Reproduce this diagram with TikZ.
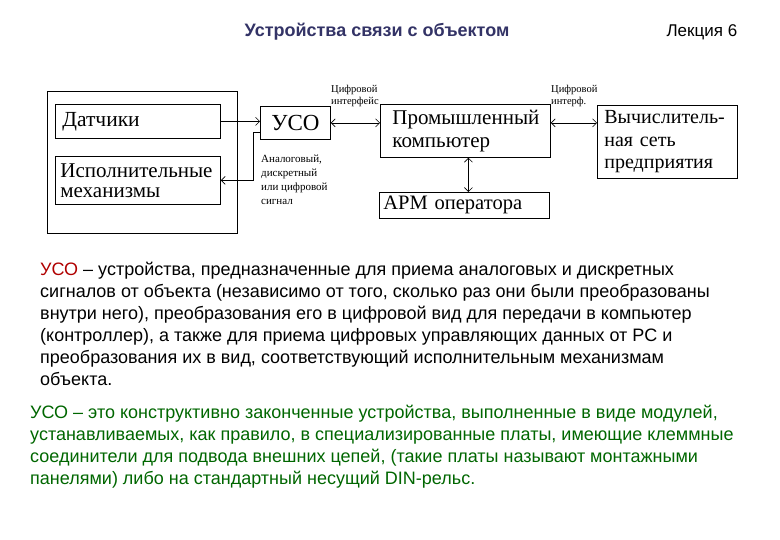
\documentclass[tikz,border=0pt]{standalone}
\usepackage{fontspec}
\setmainfont{Liberation Serif}
\setsansfont{Liberation Sans}
\usetikzlibrary{arrows.meta,positioning}
\definecolor{usonavy}{RGB}{51,51,102}
\definecolor{usored}{RGB}{176,0,0}
\definecolor{usogreen}{RGB}{0,102,0}
\tikzset{
  block/.style={rectangle, draw=black, fill=white, line width=0.8pt, anchor=north west,
                inner xsep=7pt, inner ysep=0pt, align=left,
                font=\fontsize{20}{22.5}\selectfont},
  note/.style={anchor=north west, align=left, inner sep=0pt,
               font=\fontsize{10.5}{14}\selectfont},
  para/.style={anchor=north west, align=left, inner sep=0pt,
               font=\sffamily\fontsize{18}{22}\selectfont},
  link/.style={-{Straight Barb[length=4pt,width=8pt]}, line width=0.6pt},
  duplex/.style={{Straight Barb[length=4pt,width=8pt]}-{Straight Barb[length=4pt,width=8pt]},
                 line width=0.6pt}
}
\begin{document}
\begin{tikzpicture}[x=1pt, y=-1pt]
\useasboundingbox (0,0) rectangle (780,540);
% header
\node[font=\sffamily\bfseries\fontsize{18}{20}\selectfont, text=usonavy] (title) at (377,32) {Устройства связи с объектом};
\node[anchor=west, font=\sffamily\fontsize{17}{20}\selectfont] (lecture) at (663,32) {Лекция 6};
% labels on the links
\node[note, font=\fontsize{10.5}{12}\selectfont] (iface1) at (331,85) {Цифровой\\интерфейс};
\node[note, font=\fontsize{10.5}{12}\selectfont] (iface2) at (551,85) {Цифровой\\интерф.};
\node[note, font=\fontsize{11}{14}\selectfont] (signal) at (261,155) {Аналоговый,\\дискретный\\или цифровой\\сигнал};
% object
\node[draw, line width=0.8pt, anchor=north west, minimum width=190pt, minimum height=142pt,
      inner sep=0pt] (object) at (47,91) {};
\node[block, minimum width=165pt, minimum height=34pt, text width=151pt,
      font=\fontsize{21.5}{24}\selectfont] (sensors) at (55,104) {Датчики};
\node[block, minimum width=165pt, minimum height=48pt, inner xsep=5pt, text width=155pt,
      font=\fontsize{21}{20}\selectfont] (actuators) at (55,156) {Исполнительные\\механизмы};
% control side
\node[block, minimum width=70pt, minimum height=33pt, align=center, text width=56pt,
      font=\fontsize{23}{24}\selectfont] (uso) at (260,106) {УСО};
\node[block, minimum width=170pt, minimum height=53pt, inner xsep=12pt, text width=146pt,
      font=\fontsize{21}{23}\selectfont] (pc) at (380,104) {Промышленный\\ компьютер};
\node[block, minimum width=140pt, minimum height=73pt, text width=126pt] (net) at (597,105) {Вычислитель-\\ная сеть\\предприятия};
\node[block, minimum width=170pt, minimum height=26pt, inner xsep=4pt, text width=162pt,
      font=\fontsize{20.5}{22}\selectfont] (arm) at (379,192) {АРМ оператора};
% links
\draw[link] (sensors.east) -- (uso.west |- sensors.east);
\draw[link] ([yshift=7pt]uso.south west) -- ++(-7,0) |- (actuators.east);
\draw[duplex] (uso.east) -- (pc.west |- uso.east);
\draw[duplex] ([yshift=8pt]pc.east) coordinate (pcport) -- (pcport -| net.west);
\draw[duplex] ([xshift=3pt]pc.south) -- ([xshift=3pt]pc.south |- arm.north);
% text
\node[para] (usodef) at (40,262) {\textcolor{usored}{УСО} – устройства, предназначенные для приема аналоговых и дискретных\\
сигналов от объекта (независимо от того, сколько раз они были преобразованы\\
внутри него), преобразования его в цифровой вид для передачи в компьютер\\
(контроллер), а также для приема цифровых управляющих данных от PC и\\
преобразования их в вид, соответствующий исполнительным механизмам\\
объекта.};
\node[para, text=usogreen] (usomod) at (30,405) {УСО – это конструктивно законченные устройства, выполненные в виде модулей,\\
устанавливаемых, как правило, в специализированные платы, имеющие клеммные\\
соединители для подвода внешних цепей, (такие платы называют монтажными\\
панелями) либо на стандартный несущий DIN-рельс.};
\end{tikzpicture}
\end{document}
